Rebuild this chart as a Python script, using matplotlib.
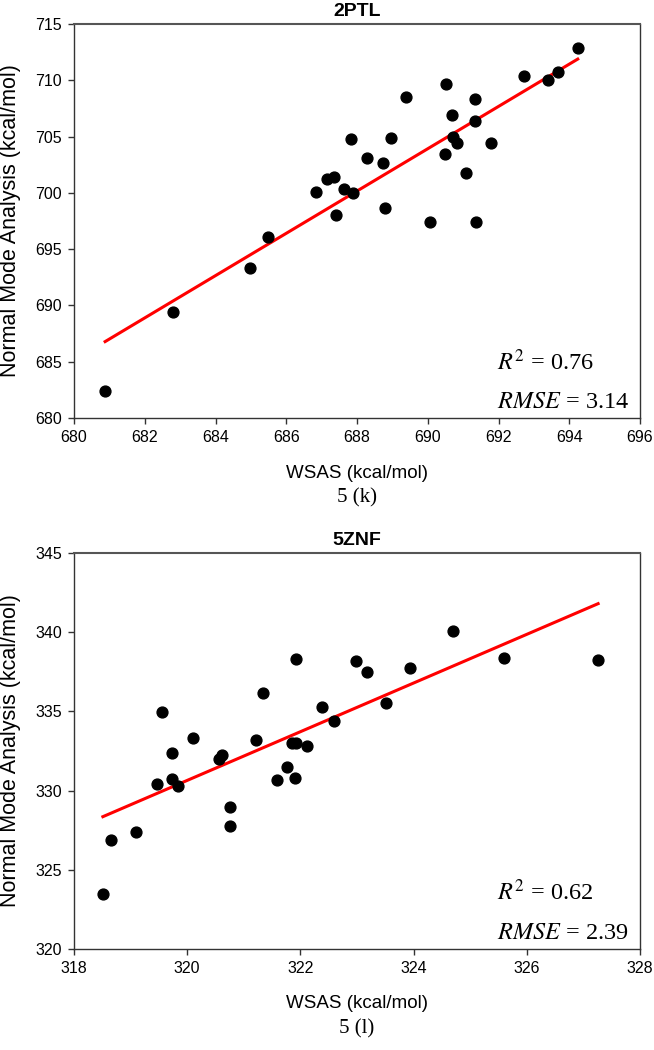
import numpy as np
from matplotlib import pyplot as plt

plt.rcParams['font.family'] = ['Liberation Sans', 'DejaVu Sans']
plt.rcParams['mathtext.fontset'] = 'stix'

# 2PTL: WSAS vs normal mode analysis (kcal/mol)
x_2ptl = [680.88, 682.81, 684.97, 685.49, 686.85, 687.14, 687.35, 687.40,
          687.63, 687.88, 687.84, 688.29, 688.73, 688.79, 688.97, 689.39,
          690.07, 690.49, 690.52, 690.69, 690.71, 690.84, 691.08, 691.33,
          691.33, 691.36, 691.79, 692.71, 693.40, 693.67, 694.24]
y_2ptl = [682.4, 689.4, 693.3, 696.1, 700.05, 701.2, 701.4, 698.04,
          700.35, 700.0, 704.76, 703.07, 702.63, 698.63, 704.85, 708.52,
          697.39, 703.48, 709.64, 706.89, 705.0, 704.4, 701.8, 708.31,
          706.36, 697.39, 704.46, 710.35, 710.03, 710.77, 712.9]

# 5ZNF
x_5znf = [318.51, 318.66, 319.10, 319.47, 319.74, 319.74, 319.83, 320.10,
          320.57, 320.62, 320.76, 320.76, 321.22, 321.58, 321.77, 321.85,
          321.92, 321.90, 322.11, 322.60, 319.56, 321.34, 321.92, 322.39,
          322.98, 323.17, 323.52, 323.94, 324.69, 325.60, 327.26]
y_5znf = [323.49, 326.85, 327.38, 330.44, 332.38, 330.74, 330.32, 333.34,
          332.0, 332.25, 328.95, 327.79, 333.2, 330.67, 331.48, 333.0,
          333.0, 330.78, 332.82, 334.41, 334.94, 336.14, 338.3, 335.26,
          338.18, 337.5, 335.53, 337.76, 340.05, 338.37, 338.22]

panels = [
    dict(x=x_2ptl, y=y_2ptl, title="2PTL", xlim=(680, 696), ylim=(680, 715),
         xticks=np.arange(680, 697, 2), yticks=np.arange(680, 716, 5),
         r2="0.76", rmse="3.14", caption="5 (k)"),
    dict(x=x_5znf, y=y_5znf, title="5ZNF", xlim=(318, 328), ylim=(320, 345),
         xticks=np.arange(318, 329, 2), yticks=np.arange(320, 346, 5),
         r2="0.62", rmse="2.39", caption="5 (l)"),
]

W, H = 654, 1050
fig = plt.figure(figsize=(W / 100, H / 100), dpi=100)

# axes boxes in pixels: left, top, right, bottom
boxes = [(74, 24, 640, 418), (74, 553, 640, 949)]

for p, (l, t, r, b) in zip(panels, boxes):
    ax = fig.add_axes([l / W, 1 - b / H, (r - l) / W, (b - t) / H])
    x = np.array(p['x'])
    y = np.array(p['y'])
    ax.plot(x, y, 'o', color='black', markersize=7.8, zorder=3)
    k, c = np.polyfit(x, y, 1)
    xs = np.array([x.min(), x.max()])
    ax.plot(xs, k * xs + c, color='red', lw=2.2, zorder=2)
    ax.set_xlim(*p['xlim'])
    ax.set_ylim(*p['ylim'])
    ax.set_xticks(p['xticks'])
    ax.set_yticks(p['yticks'])
    ax.tick_params(direction='out', length=4.5, width=1, labelsize=11.5,
                   pad=4, color='#333333')
    for s in ax.spines.values():
        s.set_color('#333333')
        s.set_linewidth(1.0)
    ax.spines['top'].set_color('#555555')
    ax.spines['top'].set_linewidth(1.5)
    ax.set_title(p['title'], fontsize=14, fontweight='bold', pad=6)
    ax.text(0.747, 0.122, r"$R^2$ = %s" % p['r2'], transform=ax.transAxes,
            fontsize=17.5, va='baseline', family='Liberation Serif')
    ax.text(0.747, 0.026, r"$RMSE$ = %s" % p['rmse'], transform=ax.transAxes,
            fontsize=17.5, va='baseline', family='Liberation Serif')
    fig.text(11 / W, 1 - (t + b) / 2 / H, "Normal Mode Analysis (kcal/mol)",
             rotation=90, ha='center', va='center', fontsize=15.5)
    fig.text((l + r) / 2 / W, 1 - (b + 55) / H, "WSAS (kcal/mol)",
             ha='center', va='center', fontsize=13.5)
    fig.text((l + r) / 2 / W, 1 - (b + 80) / H, p['caption'],
             ha='center', va='center', fontsize=15, family='Liberation Serif')

fig.savefig("out.png", dpi=100)
